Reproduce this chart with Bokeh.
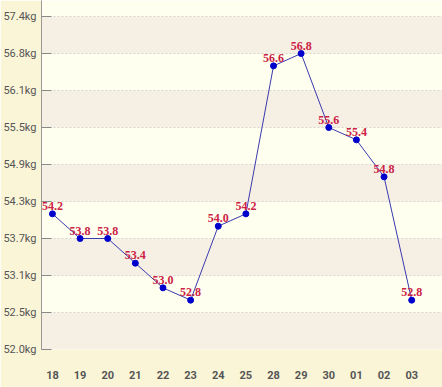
from bokeh.plotting import figure
from bokeh.models import ColumnDataSource, FixedTicker, BoxAnnotation, LabelSet, Range1d
from bokeh.embed import file_html
from bokeh.resources import INLINE

days = ["18", "19", "20", "21", "22", "23", "24", "25", "28", "29", "30", "01", "02", "03"]
weights = [54.2, 53.8, 53.8, 53.4, 53.0, 52.8, 54.0, 54.2, 56.6, 56.8, 55.6, 55.4, 54.8, 52.8]
y_ticks = [52.0, 52.6, 53.2, 53.8, 54.4, 55.0, 55.6, 56.2, 56.8, 57.4]
y_tick_labels = ["52.0kg", "52.5kg", "53.1kg", "53.7kg", "54.3kg", "54.9kg", "55.5kg", "56.1kg", "56.8kg", "57.4kg"]

xs = list(range(len(days)))
src = ColumnDataSource(dict(x=xs, y=weights, t=[f"{w:.1f}" for w in weights]))

p = figure(width=442, height=387, output_backend="svg", toolbar_location=None,
           x_range=Range1d(-0.396, 14.115), y_range=Range1d(52.0, 57.66),
           min_border_left=39, min_border_right=0, min_border_top=0, min_border_bottom=38)
p.background_fill_color = "#fffff0"
p.border_fill_color = "#fbf5d8"
p.outline_line_color = None

for i in range(0, len(y_ticks) - 1, 2):
    p.add_layout(BoxAnnotation(bottom=y_ticks[i], top=y_ticks[i + 1],
                               fill_color="#f6efe4", fill_alpha=1.0, line_color=None, level="underlay"))

p.xgrid.grid_line_color = None
p.ygrid.ticker = FixedTicker(ticks=y_ticks)
p.ygrid.grid_line_color = "#b8b8b8"
p.ygrid.grid_line_dash = "2 2"

p.yaxis.ticker = FixedTicker(ticks=y_ticks)
p.yaxis.major_label_overrides = {t: l for t, l in zip(y_ticks, y_tick_labels)}
p.yaxis.major_label_text_font = "Roboto"
p.yaxis.major_label_text_font_size = "11px"
p.yaxis.major_label_text_color = "#555555"
p.yaxis.major_label_standoff = 5
p.yaxis.major_tick_in = 10
p.yaxis.major_tick_out = 0
p.yaxis.major_tick_line_color = "#888888"
p.yaxis.axis_line_color = "#999999"
p.yaxis.minor_tick_line_color = None

p.xaxis.ticker = FixedTicker(ticks=xs)
p.xaxis.major_label_overrides = {i: d for i, d in zip(xs, days)}
p.xaxis.major_label_text_font = "Roboto"
p.xaxis.major_label_text_font_size = "11px"
p.xaxis.major_label_text_font_style = "bold"
p.xaxis.major_label_text_color = "#555555"
p.xaxis.major_label_standoff = 15
p.xaxis.axis_line_color = None
p.xaxis.major_tick_line_color = None
p.xaxis.minor_tick_line_color = None

p.line("x", "y", source=src, line_color="#3a3ab0", line_width=1)
p.scatter("x", "y", source=src, size=6, fill_color="#0000cc", line_color="#0000cc")

labels = LabelSet(x="x", y="y", text="t", source=src, text_align="center", text_baseline="bottom",
                  y_offset=4, text_font="Roboto", text_font_size="12px", text_font_style="bold",
                  text_color="#cc2244", level="overlay")
p.add_layout(labels)

open("out.html", "w").write(file_html(p, INLINE))
